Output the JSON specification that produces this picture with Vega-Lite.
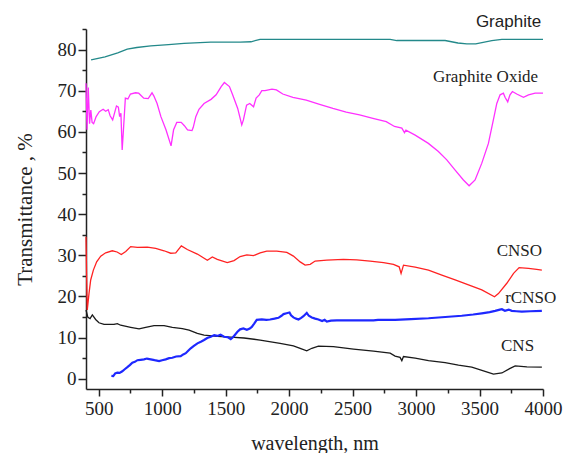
{
  "$schema": "https://vega.github.io/schema/vega-lite/v6.json",
  "width": 457,
  "height": 360,
  "autosize": "none",
  "padding": {"left": 86, "top": 29, "right": 21, "bottom": 64},
  "background": "white",
  "config": {"view": {"stroke": null}},
  "datasets": {
    "spectra": [
      {"s":"Graphite","x":440,"y":77.5},{"s":"Graphite","x":550,"y":78.2},{"s":"Graphite","x":650,"y":79.2},{"s":"Graphite","x":725,"y":80.1},{"s":"Graphite","x":800,"y":80.5},{"s":"Graphite","x":910,"y":80.9},{"s":"Graphite","x":1050,"y":81.2},{"s":"Graphite","x":1172,"y":81.5},{"s":"Graphite","x":1382,"y":81.8},{"s":"Graphite","x":1614,"y":81.8},{"s":"Graphite","x":1700,"y":81.9},{"s":"Graphite","x":1771,"y":82.5},{"s":"Graphite","x":2000,"y":82.5},{"s":"Graphite","x":2500,"y":82.5},{"s":"Graphite","x":2796,"y":82.5},{"s":"Graphite","x":2848,"y":82.2},{"s":"Graphite","x":3000,"y":82.2},{"s":"Graphite","x":3229,"y":82.2},{"s":"Graphite","x":3330,"y":81.6},{"s":"Graphite","x":3400,"y":81.4},{"s":"Graphite","x":3470,"y":81.4},{"s":"Graphite","x":3597,"y":82.2},{"s":"Graphite","x":3676,"y":82.5},{"s":"Graphite","x":4000,"y":82.5},

      {"s":"GO","x":400,"y":71.8},{"s":"GO","x":408,"y":60.5},{"s":"GO","x":418,"y":70.8},{"s":"GO","x":428,"y":62},{"s":"GO","x":438,"y":65.3},{"s":"GO","x":448,"y":62.3},{"s":"GO","x":460,"y":62},{"s":"GO","x":480,"y":63.7},{"s":"GO","x":505,"y":64.9},{"s":"GO","x":535,"y":65.5},{"s":"GO","x":555,"y":65},{"s":"GO","x":575,"y":65.4},{"s":"GO","x":590,"y":63.9},{"s":"GO","x":610,"y":62.9},{"s":"GO","x":640,"y":66.3},{"s":"GO","x":655,"y":66},{"s":"GO","x":665,"y":63.7},{"s":"GO","x":675,"y":64.5},{"s":"GO","x":685,"y":55.6},{"s":"GO","x":695,"y":60.5},{"s":"GO","x":710,"y":68.2},{"s":"GO","x":730,"y":68},{"s":"GO","x":750,"y":69.2},{"s":"GO","x":790,"y":69.5},{"s":"GO","x":815,"y":69.4},{"s":"GO","x":855,"y":68.2},{"s":"GO","x":890,"y":68.1},{"s":"GO","x":920,"y":69.5},{"s":"GO","x":935,"y":68.7},{"s":"GO","x":960,"y":66.9},{"s":"GO","x":990,"y":63.7},{"s":"GO","x":1030,"y":60.5},{"s":"GO","x":1070,"y":56.6},{"s":"GO","x":1090,"y":60.5},{"s":"GO","x":1115,"y":62.3},{"s":"GO","x":1150,"y":62.3},{"s":"GO","x":1175,"y":61.5},{"s":"GO","x":1200,"y":60.5},{"s":"GO","x":1235,"y":60.3},{"s":"GO","x":1245,"y":61.1},{"s":"GO","x":1265,"y":63.7},{"s":"GO","x":1290,"y":65.5},{"s":"GO","x":1330,"y":66.9},{"s":"GO","x":1385,"y":67.9},{"s":"GO","x":1425,"y":69},{"s":"GO","x":1465,"y":71},{"s":"GO","x":1490,"y":72},{"s":"GO","x":1530,"y":71},{"s":"GO","x":1555,"y":69},{"s":"GO","x":1595,"y":65.7},{"s":"GO","x":1627,"y":61.7},{"s":"GO","x":1640,"y":62.9},{"s":"GO","x":1665,"y":66.5},{"s":"GO","x":1690,"y":66.9},{"s":"GO","x":1720,"y":66.1},{"s":"GO","x":1740,"y":68.2},{"s":"GO","x":1765,"y":69},{"s":"GO","x":1785,"y":70},{"s":"GO","x":1810,"y":70},{"s":"GO","x":1865,"y":70.4},{"s":"GO","x":1900,"y":70.2},{"s":"GO","x":1950,"y":69.2},{"s":"GO","x":2030,"y":68.4},{"s":"GO","x":2135,"y":67.7},{"s":"GO","x":2240,"y":66.7},{"s":"GO","x":2345,"y":65.7},{"s":"GO","x":2450,"y":64.8},{"s":"GO","x":2555,"y":64.1},{"s":"GO","x":2660,"y":63.3},{"s":"GO","x":2765,"y":62.5},{"s":"GO","x":2830,"y":61.3},{"s":"GO","x":2888,"y":60.9},{"s":"GO","x":2909,"y":59.8},{"s":"GO","x":2920,"y":60.4},{"s":"GO","x":2993,"y":59.2},{"s":"GO","x":3097,"y":57.2},{"s":"GO","x":3176,"y":55.2},{"s":"GO","x":3242,"y":53.2},{"s":"GO","x":3308,"y":50.7},{"s":"GO","x":3373,"y":48.3},{"s":"GO","x":3418,"y":46.9},{"s":"GO","x":3465,"y":48.3},{"s":"GO","x":3518,"y":52.4},{"s":"GO","x":3570,"y":57.2},{"s":"GO","x":3609,"y":62.9},{"s":"GO","x":3636,"y":66.9},{"s":"GO","x":3662,"y":69},{"s":"GO","x":3688,"y":69.4},{"s":"GO","x":3701,"y":68.4},{"s":"GO","x":3722,"y":67.3},{"s":"GO","x":3740,"y":69},{"s":"GO","x":3759,"y":69.8},{"s":"GO","x":3793,"y":69.2},{"s":"GO","x":3846,"y":68.4},{"s":"GO","x":3886,"y":69},{"s":"GO","x":3938,"y":69.4},{"s":"GO","x":4000,"y":69.4},

      {"s":"CNSO","x":400,"y":34.5},{"s":"CNSO","x":405,"y":24.8},{"s":"CNSO","x":410,"y":16.7},{"s":"CNSO","x":424,"y":20.8},{"s":"CNSO","x":437,"y":24},{"s":"CNSO","x":458,"y":26.4},{"s":"CNSO","x":484,"y":28.4},{"s":"CNSO","x":516,"y":29.8},{"s":"CNSO","x":555,"y":30.6},{"s":"CNSO","x":607,"y":31.1},{"s":"CNSO","x":645,"y":30.8},{"s":"CNSO","x":678,"y":30.2},{"s":"CNSO","x":713,"y":30.9},{"s":"CNSO","x":752,"y":32.1},{"s":"CNSO","x":805,"y":31.9},{"s":"CNSO","x":883,"y":32},{"s":"CNSO","x":949,"y":31.7},{"s":"CNSO","x":1015,"y":31.1},{"s":"CNSO","x":1067,"y":30.5},{"s":"CNSO","x":1107,"y":30.6},{"s":"CNSO","x":1151,"y":32.3},{"s":"CNSO","x":1198,"y":31.4},{"s":"CNSO","x":1277,"y":30.3},{"s":"CNSO","x":1356,"y":28.8},{"s":"CNSO","x":1395,"y":29.6},{"s":"CNSO","x":1434,"y":29},{"s":"CNSO","x":1513,"y":28.2},{"s":"CNSO","x":1566,"y":28.7},{"s":"CNSO","x":1614,"y":29.7},{"s":"CNSO","x":1667,"y":30.1},{"s":"CNSO","x":1719,"y":29.9},{"s":"CNSO","x":1772,"y":30.6},{"s":"CNSO","x":1824,"y":31},{"s":"CNSO","x":1903,"y":31},{"s":"CNSO","x":1982,"y":30.7},{"s":"CNSO","x":2034,"y":29.8},{"s":"CNSO","x":2087,"y":28.4},{"s":"CNSO","x":2126,"y":27.6},{"s":"CNSO","x":2166,"y":27.8},{"s":"CNSO","x":2205,"y":28.6},{"s":"CNSO","x":2297,"y":28.8},{"s":"CNSO","x":2428,"y":29},{"s":"CNSO","x":2533,"y":28.9},{"s":"CNSO","x":2638,"y":28.6},{"s":"CNSO","x":2744,"y":28.2},{"s":"CNSO","x":2822,"y":27.8},{"s":"CNSO","x":2867,"y":27.2},{"s":"CNSO","x":2882,"y":25.6},{"s":"CNSO","x":2901,"y":27.6},{"s":"CNSO","x":2993,"y":27.1},{"s":"CNSO","x":3098,"y":26.4},{"s":"CNSO","x":3203,"y":25.2},{"s":"CNSO","x":3308,"y":24},{"s":"CNSO","x":3413,"y":22.8},{"s":"CNSO","x":3518,"y":21.6},{"s":"CNSO","x":3618,"y":19.9},{"s":"CNSO","x":3649,"y":20.7},{"s":"CNSO","x":3715,"y":23.2},{"s":"CNSO","x":3768,"y":25.6},{"s":"CNSO","x":3812,"y":27},{"s":"CNSO","x":3886,"y":26.8},{"s":"CNSO","x":3950,"y":26.6},{"s":"CNSO","x":3991,"y":26.4},

      {"s":"CNS","x":400,"y":16.7},{"s":"CNS","x":415,"y":14.9},{"s":"CNS","x":432,"y":14.6},{"s":"CNS","x":450,"y":15.5},{"s":"CNS","x":476,"y":14.4},{"s":"CNS","x":502,"y":13.6},{"s":"CNS","x":542,"y":13.2},{"s":"CNS","x":620,"y":13.2},{"s":"CNS","x":647,"y":13.4},{"s":"CNS","x":673,"y":13},{"s":"CNS","x":752,"y":12.5},{"s":"CNS","x":818,"y":12.1},{"s":"CNS","x":870,"y":12.5},{"s":"CNS","x":936,"y":12.9},{"s":"CNS","x":1015,"y":12.9},{"s":"CNS","x":1080,"y":12.5},{"s":"CNS","x":1159,"y":12.2},{"s":"CNS","x":1212,"y":11.8},{"s":"CNS","x":1277,"y":11},{"s":"CNS","x":1330,"y":10.6},{"s":"CNS","x":1435,"y":10.3},{"s":"CNS","x":1540,"y":10.1},{"s":"CNS","x":1645,"y":9.9},{"s":"CNS","x":1772,"y":9.4},{"s":"CNS","x":1929,"y":8.6},{"s":"CNS","x":2034,"y":8},{"s":"CNS","x":2087,"y":7.4},{"s":"CNS","x":2139,"y":6.8},{"s":"CNS","x":2179,"y":7.4},{"s":"CNS","x":2231,"y":7.9},{"s":"CNS","x":2349,"y":7.8},{"s":"CNS","x":2507,"y":7.2},{"s":"CNS","x":2665,"y":6.7},{"s":"CNS","x":2796,"y":6.2},{"s":"CNS","x":2835,"y":5.5},{"s":"CNS","x":2874,"y":5.2},{"s":"CNS","x":2888,"y":4.4},{"s":"CNS","x":2901,"y":5.4},{"s":"CNS","x":2993,"y":5},{"s":"CNS","x":3098,"y":4.4},{"s":"CNS","x":3229,"y":3.9},{"s":"CNS","x":3334,"y":3.3},{"s":"CNS","x":3439,"y":2.8},{"s":"CNS","x":3531,"y":1.9},{"s":"CNS","x":3610,"y":1.1},{"s":"CNS","x":3676,"y":1.4},{"s":"CNS","x":3741,"y":2.5},{"s":"CNS","x":3781,"y":3.1},{"s":"CNS","x":3873,"y":2.9},{"s":"CNS","x":3991,"y":2.8}
    ],
    "rcnso": [
      {"x":600,"y":0.7},{"x":615,"y":0.65},{"x":630,"y":1.3},{"x":647,"y":1.5},{"x":665,"y":1.4},{"x":686,"y":1.8},{"x":705,"y":2.3},{"x":726,"y":2.8},{"x":745,"y":3.3},{"x":765,"y":3.9},{"x":785,"y":4.1},{"x":805,"y":4.5},{"x":830,"y":4.6},{"x":857,"y":4.7},{"x":880,"y":4.9},{"x":910,"y":4.7},{"x":940,"y":4.5},{"x":976,"y":4.3},{"x":1000,"y":4.5},{"x":1028,"y":4.7},{"x":1055,"y":5},{"x":1080,"y":5.1},{"x":1110,"y":5.4},{"x":1146,"y":5.5},{"x":1166,"y":5.9},{"x":1186,"y":6.2},{"x":1205,"y":6.8},{"x":1225,"y":7.4},{"x":1250,"y":8},{"x":1278,"y":8.6},{"x":1305,"y":9},{"x":1330,"y":9.4},{"x":1355,"y":9.9},{"x":1383,"y":10.2},{"x":1410,"y":10.6},{"x":1435,"y":10.4},{"x":1460,"y":10.7},{"x":1488,"y":10.2},{"x":1515,"y":10.1},{"x":1540,"y":9.6},{"x":1555,"y":10},{"x":1566,"y":10.4},{"x":1593,"y":11.4},{"x":1614,"y":12},{"x":1640,"y":12.2},{"x":1667,"y":11.9},{"x":1690,"y":12.2},{"x":1706,"y":12.6},{"x":1725,"y":13.4},{"x":1745,"y":14.3},{"x":1785,"y":14.4},{"x":1820,"y":14.3},{"x":1850,"y":14.4},{"x":1885,"y":14.6},{"x":1916,"y":14.8},{"x":1940,"y":15.3},{"x":1956,"y":15.7},{"x":1980,"y":15.9},{"x":2003,"y":16.1},{"x":2015,"y":15.4},{"x":2034,"y":14.9},{"x":2055,"y":14.6},{"x":2074,"y":14.4},{"x":2095,"y":14.8},{"x":2113,"y":15.2},{"x":2139,"y":16},{"x":2155,"y":15.3},{"x":2179,"y":14.9},{"x":2205,"y":14.6},{"x":2231,"y":14.4},{"x":2260,"y":14},{"x":2280,"y":14.3},{"x":2297,"y":13.9},{"x":2330,"y":14.1},{"x":2376,"y":14.2},{"x":2507,"y":14.2},{"x":2665,"y":14.2},{"x":2700,"y":14.3},{"x":2835,"y":14.3},{"x":2960,"y":14.5},{"x":3098,"y":14.7},{"x":3230,"y":15},{"x":3360,"y":15.3},{"x":3450,"y":15.6},{"x":3518,"y":15.9},{"x":3580,"y":16.2},{"x":3623,"y":16.5},{"x":3660,"y":16.8},{"x":3676,"y":16.9},{"x":3700,"y":16.5},{"x":3730,"y":16.8},{"x":3754,"y":16.5},{"x":3790,"y":16.4},{"x":3833,"y":16.3},{"x":3900,"y":16.4},{"x":3991,"y":16.5}
    ],
    "serifLabels": [
      {"label":"Graphite Oxide","x":3962,"y":72.2},
      {"label":"CNSO","x":3993,"y":29.8},
      {"label":"rCNSO","x":4104,"y":18.3},
      {"label":"CNS","x":3930,"y":6.7}
    ],
    "sansLabels": [
      {"label":"Graphite","x":3985,"y":85.5}
    ]
  },
  "encoding": {
    "x": {
      "field": "x", "type": "quantitative",
      "scale": {"domain": [400, 4000], "nice": false, "zero": false},
      "axis": {
        "values": [500,750,1000,1250,1500,1750,2000,2250,2500,2750,3000,3250,3500,3750,4000],
        "labelExpr": "datum.value % 500 === 0 ? datum.label : ''",
        "format": "d",
        "grid": false,
        "labelOverlap": false,
        "labelFlush": false,
        "tickSize": {"condition": {"test": "datum.value % 500 !== 0", "value": 4}, "value": 7},
        "tickWidth": 1.5, "tickColor": "#222",
        "domainWidth": 1.5, "domainColor": "#222",
        "labelFont": "Liberation Serif", "labelFontSize": 19, "labelColor": "#222", "labelPadding": 3,
        "title": "wavelength, nm",
        "titleFont": "Liberation Serif", "titleFontSize": 20, "titleFontWeight": "normal", "titleColor": "#222", "titlePadding": 15
      }
    },
    "y": {
      "field": "y", "type": "quantitative",
      "scale": {"domain": [-2.5, 85], "nice": false, "zero": false},
      "axis": {
        "values": [0,5,10,15,20,25,30,35,40,45,50,55,60,65,70,75,80,85],
        "labelExpr": "datum.value % 10 === 0 ? datum.label : ''",
        "grid": false,
        "labelOverlap": false,
        "labelFlush": false,
        "tickSize": {"condition": {"test": "datum.value % 10 !== 0", "value": 4}, "value": 8},
        "tickWidth": 1.5, "tickColor": "#222",
        "domainWidth": 1.5, "domainColor": "#222",
        "labelFont": "Liberation Serif", "labelFontSize": 19, "labelColor": "#222", "labelPadding": 2,
        "title": "Transmittance , %",
        "titleFont": "Liberation Serif", "titleFontSize": 21, "titleFontWeight": "normal", "titleColor": "#222", "titlePadding": 22
      }
    }
  },
  "layer": [
    {
      "data": {"name": "spectra"},
      "mark": {"type": "line", "strokeWidth": 1.3, "clip": false},
      "encoding": {
        "color": {
          "field": "s", "type": "nominal", "legend": null,
          "scale": {"domain": ["Graphite","GO","CNSO","CNS"], "range": ["#23898a","#ff30ff","#ff2222","#1a1a1a"]}
        }
      }
    },
    {
      "data": {"name": "rcnso"},
      "mark": {"type": "line", "strokeWidth": 2.2, "color": "#1e28ff", "clip": false},
      "encoding": {}
    },
    {
      "data": {"name": "serifLabels"},
      "mark": {"type": "text", "align": "right", "baseline": "alphabetic", "font": "Liberation Serif", "fontSize": 17, "color": "#222", "clip": false},
      "encoding": {"text": {"field": "label"}}
    },
    {
      "data": {"name": "sansLabels"},
      "mark": {"type": "text", "align": "right", "baseline": "alphabetic", "font": "Liberation Sans", "fontSize": 17, "color": "#222", "clip": false},
      "encoding": {"text": {"field": "label"}}
    }
  ]
}
